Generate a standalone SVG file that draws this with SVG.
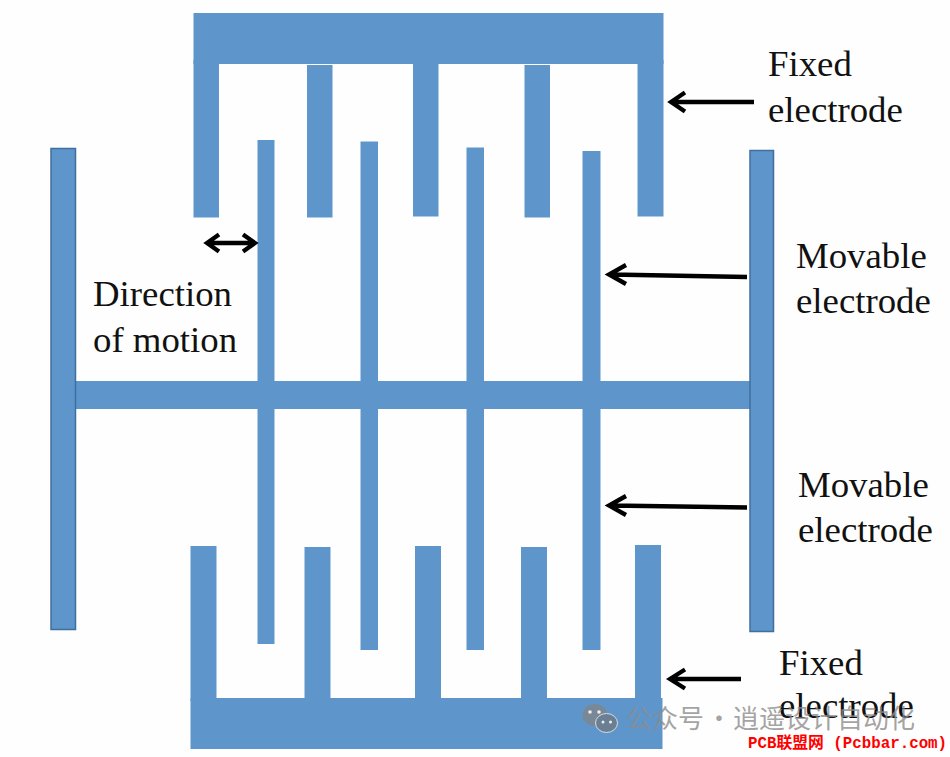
<svg xmlns="http://www.w3.org/2000/svg" width="950" height="757" viewBox="0 0 950 757">
<style>
.b{fill:#5e96cc}
.s{fill:#5e96cc;stroke:#3f6f9f;stroke-width:1.5}
.l{font-family:"Liberation Serif",serif;font-size:36.800px;fill:#111}
.a{fill:none;stroke:#000;stroke-width:4.300}
.w{font-family:"Noto Sans CJK SC",sans-serif;font-size:26px;fill:#8c8c8c;fill-opacity:.8}
.p{font-family:"Liberation Mono","Noto Sans CJK SC",monospace;font-size:15.800px;font-weight:bold;fill:#f00}
</style>
<rect width="950" height="757" fill="#fefefe"/>
<g id="fixed-top">
<rect class="b" x="193.500" y="13" width="470" height="51"/>
<rect class="b" x="193.500" y="60" width="25.500" height="157.500"/>
<rect class="b" x="307" y="65" width="25.500" height="152.500"/>
<rect class="b" x="413" y="60" width="25.500" height="156.500"/>
<rect class="b" x="524.500" y="65" width="25.500" height="152.500"/>
<rect class="b" x="637.500" y="60" width="26" height="156.500"/>
</g>
<g id="fixed-bottom">
<rect class="b" x="190.500" y="698" width="472" height="51"/>
<rect class="b" x="190.500" y="546" width="26" height="155"/>
<rect class="b" x="304.500" y="547" width="26" height="154"/>
<rect class="b" x="415" y="546" width="26" height="155"/>
<rect class="b" x="521" y="547" width="26" height="154"/>
<rect class="b" x="635" y="545" width="26" height="156"/>
</g>
<g id="movable">
<rect class="b" x="75" y="381" width="676" height="28"/>
<rect class="b" x="257.500" y="140" width="17" height="504"/>
<rect class="b" x="360.500" y="141.500" width="17.500" height="508.500"/>
<rect class="b" x="466.500" y="147.500" width="17.500" height="502.500"/>
<rect class="b" x="582.500" y="151" width="18" height="499"/>
</g>
<g id="plate-left"><rect class="s" x="51" y="148.500" width="24.500" height="481"/></g>
<g id="plate-right"><rect class="s" x="750" y="150.500" width="23.500" height="481"/></g>
<g id="connectors">
<path class="a" d="M754 102H673M685 92.500L671 102L685 111.500"/>
<path class="a" d="M747 277L611 274.500M626 265L609 274.500L626 284"/>
<path class="a" d="M747 507.500L611 505.500M626 496L609 505.500L626 515"/>
<path class="a" d="M741 679H672M685 669.500L670 679L685 688.500"/>
<path class="a" d="M208 243H254M219 234.500L207 243L219 251.500M243 234.500L255 243L243 251.500"/>
</g>
<g id="label-fixed-top"><text class="l" x="768" y="76">Fixed</text><text class="l" x="768" y="122">electrode</text></g>
<g id="label-movable-top"><text class="l" x="796" y="268">Movable</text><text class="l" x="796" y="313">electrode</text></g>
<g id="label-direction"><text class="l" x="93" y="306">Direction</text><text class="l" x="93" y="352">of motion</text></g>
<g id="label-movable-bottom"><text class="l" x="798" y="497">Movable</text><text class="l" x="798" y="542">electrode</text></g>
<g id="label-fixed-bottom"><text class="l" x="779" y="675">Fixed</text><text class="l" x="779" y="718">electrode</text></g>
<g id="badge">
<ellipse cx="595" cy="715" rx="12.500" ry="11" fill="#7f8488" fill-opacity=".8"/>
<ellipse cx="606.500" cy="723" rx="11" ry="9.500" fill="#6b7f92" stroke="#d8dde2" stroke-width="1"/>
<circle cx="590" cy="712" r="1.800" fill="#eee"/>
<circle cx="599" cy="712" r="1.800" fill="#eee"/>
<circle cx="603" cy="722" r="1.500" fill="#eee"/>
<circle cx="610.500" cy="722" r="1.500" fill="#eee"/>
<text class="w" y="728"><tspan x="626">公众号</tspan><tspan x="706">·</tspan><tspan x="733">逍遥设计自动化</tspan></text>
<text class="p" x="748" y="748">PCB联盟网 (Pcbbar.com)</text>
</g>
</svg>
